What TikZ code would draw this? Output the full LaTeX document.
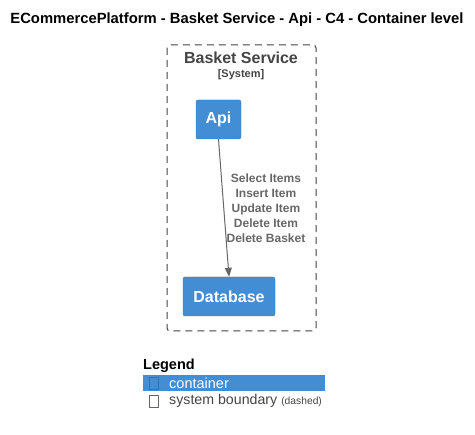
\documentclass[tikz,border=0pt]{standalone}
\usepackage{fontspec}
\setmainfont{Liberation Sans}
\usepackage{xcolor}
\usetikzlibrary{arrows.meta}
\definecolor{contblue}{HTML}{438DD5}
\definecolor{bordergray}{HTML}{444444}
\definecolor{relgray}{HTML}{666666}
\tikzset{
	container/.style={fill=contblue, draw=contblue!85!black, rounded corners=2pt, text=white, font=\bfseries\fontsize{16}{18}\selectfont, inner sep=0pt},
	rel/.style={draw=relgray, line width=1pt, -{Triangle[length=9pt, width=7pt]}},
	rellabel/.style={text=relgray, font=\bfseries\fontsize{12}{15}\selectfont, align=center}
}

\begin{document}
\begin{tikzpicture}[x=1pt, y=-1pt]
		\useasboundingbox (0,0) rectangle (475,435);

		\node[font=\bfseries\fontsize{14.8}{17}\selectfont] (title) at (237, 20) {ECommercePlatform - Basket Service - Api - C4 - Container level};

		% system boundary
		\draw[bordergray, line width=1pt, dash pattern=on 7pt off 5pt, rounded corners=3pt] (167, 45) rectangle (316, 331);
		\node[text=bordergray, font=\bfseries\fontsize{16}{18}\selectfont] (bname) at (241, 58) {Basket Service};
		\node[text=bordergray, font=\bfseries\fontsize{11}{13}\selectfont] (btype) at (241, 75) {[System]};

		\node[container, minimum width=45pt, minimum height=39pt] (api) at (218.5, 119.5) {Api};
		\node[container, minimum width=92pt, minimum height=39pt] (db) at (229, 296.5) {Database};

		\draw[rel] (api.south) -- (db.north);
		\node[rellabel] (ops) at (266, 208) {Select Items\\Insert Item\\Update Item\\Delete Item\\Delete Basket};

		% legend
		\node[anchor=west, inner sep=0pt, font=\bfseries\fontsize{14.5}{16}\selectfont] (legend) at (143, 366) {Legend};
		\fill[contblue] (143, 375) rectangle (325, 391);
		\draw[contblue!80!black] (149, 377) rectangle (158, 389);
		\node[anchor=west, inner sep=0pt, text=white, font=\fontsize{14.5}{16}\selectfont] (lcont) at (169, 383) {container};
		\draw[relgray] (149, 395) rectangle (158, 407);
		\node[anchor=west, inner sep=0pt, text=bordergray, font=\fontsize{14.2}{16}\selectfont] (lbound) at (169, 401) {system boundary \fontsize{10.3}{12}\selectfont(dashed)};
	\end{tikzpicture}
\end{document}
